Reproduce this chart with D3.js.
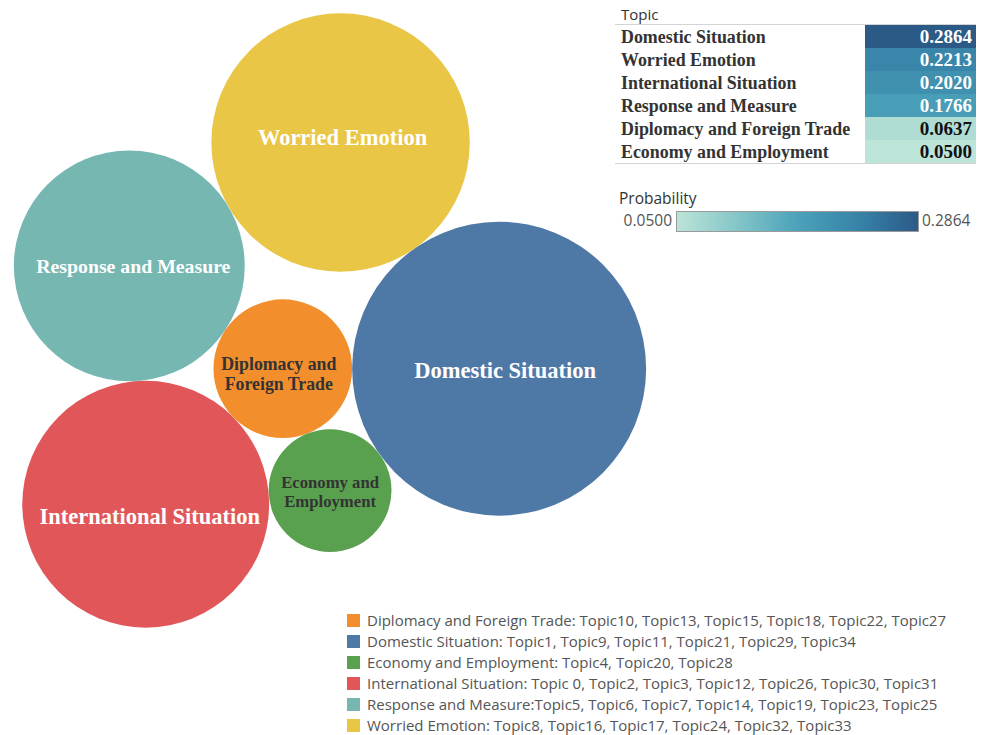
<!DOCTYPE html>
<html>
<head>
<meta charset="utf-8">
<script src="https://cdn.jsdelivr.net/npm/d3@7"></script>
<style>
  html, body { margin: 0; padding: 0; background: #ffffff; }
  svg { display: block; }
</style>
</head>
<body>
<svg id="chart" width="981" height="735"></svg>
<script>
// Topic groups and their probabilities
const topics = [
  "Domestic Situation",
  "Worried Emotion",
  "International Situation",
  "Response and Measure",
  "Diplomacy and Foreign Trade",
  "Economy and Employment"
];
const probabilities = [0.2864, 0.2213, 0.2020, 0.1766, 0.0637, 0.0500];
const probabilityLabels = ["0.2864", "0.2213", "0.2020", "0.1766", "0.0637", "0.0500"];

// Topic-number membership shown in the colour legend (alphabetical order)
const legendTopics = [
  "Diplomacy and Foreign Trade",
  "Domestic Situation",
  "Economy and Employment",
  "International Situation",
  "Response and Measure",
  "Worried Emotion"
];
const legendMembers = [
  ": Topic10, Topic13, Topic15, Topic18, Topic22, Topic27",
  ": Topic1, Topic9, Topic11, Topic21, Topic29, Topic34",
  ": Topic4, Topic20, Topic28",
  ": Topic 0, Topic2, Topic3, Topic12, Topic26, Topic30, Topic31",
  ":Topic5, Topic6, Topic7, Topic14, Topic19, Topic23, Topic25",
  ": Topic8, Topic16, Topic17, Topic24, Topic32, Topic33"
];

const colorLegendDomain = [0.0500, 0.2864];
const colorLegendLabels = ["0.0500", "0.2864"];

const data = topics.map((t, i) => ({ topic: t, value: probabilities[i], label: probabilityLabels[i] }));
const byTopic = new Map(data.map(d => [d.topic, d]));

const svg = d3.select("#chart");
const sansFont = "'Open Sans', sans-serif";
const serifFont = "'Liberation Serif', 'Times New Roman', serif";

// ---------- scales ----------
const color = d3.scaleOrdinal()
  .domain(["Diplomacy and Foreign Trade", "Domestic Situation", "Economy and Employment",
           "International Situation", "Response and Measure", "Worried Emotion"])
  .range(["#f28e2b", "#4e79a7", "#59a14f", "#e15759", "#76b7b2", "#e9c646"]);

const radius = d3.scaleSqrt().domain([0, d3.max(probabilities)]).range([0, 147]);

// sequential blue-teal ramp used in the table and the colour bar
const rampStops = ["#bce4d8", "#84c6c8", "#4ba2ba", "#3783a8", "#2b5a87"];
const heat = d3.scaleLinear()
  .domain(d3.range(rampStops.length).map(i =>
    colorLegendDomain[0] + (colorLegendDomain[1] - colorLegendDomain[0]) * i / (rampStops.length - 1)))
  .range(rampStops)
  .interpolate(d3.interpolateRgb);

// ---------- bubble layout: each bubble touches two already placed bubbles ----------
data.forEach(d => { d.r = radius(d.value); });

function touch(a, b, c, side) {
  const dx = b.x - a.x, dy = b.y - a.y;
  const d = Math.hypot(dx, dy);
  const ra = a.r + c.r, rb = b.r + c.r;
  const along = (ra * ra - rb * rb + d * d) / (2 * d);
  const h = Math.sqrt(Math.max(0, ra * ra - along * along));
  const ux = dx / d, uy = dy / d;
  c.x = a.x + along * ux + side * h * (-uy);
  c.y = a.y + along * uy + side * h * ux;
}

const hub = byTopic.get("Domestic Situation");
hub.x = 0; hub.y = 0;
const dip = byTopic.get("Diplomacy and Foreign Trade");
dip.x = -(hub.r + dip.r); dip.y = 0;
touch(hub, dip, byTopic.get("Economy and Employment"), -1);
touch(dip, byTopic.get("Economy and Employment"), byTopic.get("International Situation"), 1);
touch(byTopic.get("International Situation"), dip, byTopic.get("Response and Measure"), -1);
touch(byTopic.get("Response and Measure"), hub, byTopic.get("Worried Emotion"), -1);

// centre the packed group inside the bubble area
const area = { cx: 330, cy: 320.5 };
const x0 = d3.min(data, d => d.x - d.r), x1 = d3.max(data, d => d.x + d.r);
const y0 = d3.min(data, d => d.y - d.r), y1 = d3.max(data, d => d.y + d.r);
const shiftX = area.cx - (x0 + x1) / 2, shiftY = area.cy - (y0 + y1) / 2;

const bubbles = svg.append("g").attr("transform", `translate(${shiftX},${shiftY})`);

bubbles.selectAll("circle")
  .data(data)
  .join("circle")
  .attr("cx", d => d.x)
  .attr("cy", d => d.y)
  .attr("r", d => d.r)
  .attr("fill", d => color(d.topic));

// bubble labels
const labelStyle = {
  "Domestic Situation":          { lines: ["Domestic Situation"], size: 22.5, fill: "#ffffff", dx: 6, dy: 1 },
  "Worried Emotion":             { lines: ["Worried Emotion"], size: 22.5, fill: "#ffffff", dx: 2, dy: -5 },
  "International Situation":     { lines: ["International Situation"], size: 22.5, fill: "#ffffff", dx: 4, dy: 12 },
  "Response and Measure":        { lines: ["Response and Measure"], size: 19.8, fill: "#ffffff", dx: 4, dy: 0 },
  "Diplomacy and Foreign Trade": { lines: ["Diplomacy and", "Foreign Trade"], size: 17.8, fill: "#333333", dx: -4, dy: 5 },
  "Economy and Employment":      { lines: ["Economy and", "Employment"], size: 16.7, fill: "#333333", dx: 0, dy: 1 }
};

bubbles.selectAll("text.bubble-label")
  .data(data)
  .join("text")
  .attr("class", "bubble-label")
  .attr("x", d => d.x + labelStyle[d.topic].dx)
  .attr("y", d => d.y + labelStyle[d.topic].dy)
  .attr("text-anchor", "middle")
  .attr("font-family", serifFont)
  .attr("font-weight", "bold")
  .attr("font-size", d => labelStyle[d.topic].size)
  .attr("fill", d => labelStyle[d.topic].fill)
  .each(function(d) {
    const s = labelStyle[d.topic];
    const lh = s.size * 1.12;
    const n = s.lines.length;
    d3.select(this).selectAll("tspan")
      .data(s.lines)
      .join("tspan")
      .attr("x", d.x + s.dx)
      .attr("y", (l, i) => d.y + s.dy + (i - (n - 1) / 2) * lh)
      .attr("dy", "0.35em")
      .text(l => l);
  });

// ---------- probability table ----------
const table = svg.append("g");
const tbl = { left: 615, right: 976, top: 25, cellX: 865, rowH: 23 };

table.append("text")
  .attr("x", 621).attr("y", 20)
  .attr("font-family", sansFont)
  .attr("font-size", 15)
  .attr("fill", "#333")
  .text("Topic");

const rows = table.selectAll("g.row")
  .data(data)
  .join("g")
  .attr("class", "row")
  .attr("transform", (d, i) => `translate(0,${tbl.top + i * tbl.rowH})`);

rows.append("rect")
  .attr("x", tbl.cellX).attr("y", 0)
  .attr("width", tbl.right - tbl.cellX).attr("height", tbl.rowH)
  .attr("fill", d => heat(d.value));

rows.append("text")
  .attr("x", 621).attr("y", tbl.rowH / 2)
  .attr("dy", "0.35em")
  .attr("font-family", serifFont)
  .attr("font-weight", "bold")
  .attr("font-size", 17.9)
  .attr("fill", "#333")
  .text(d => d.topic);

rows.append("text")
  .attr("x", 972).attr("y", tbl.rowH / 2)
  .attr("dy", "0.35em")
  .attr("text-anchor", "end")
  .attr("font-family", serifFont)
  .attr("font-weight", "bold")
  .attr("font-size", 19)
  .attr("fill", d => d.value > 0.12 ? "#ffffff" : "#111111")
  .text(d => d.label);

table.append("line")
  .attr("x1", tbl.left).attr("x2", tbl.right)
  .attr("y1", tbl.top - 0.5).attr("y2", tbl.top - 0.5)
  .attr("stroke", "#d4d4d4");
table.append("line")
  .attr("x1", tbl.left).attr("x2", tbl.right)
  .attr("y1", tbl.top + data.length * tbl.rowH + 0.5).attr("y2", tbl.top + data.length * tbl.rowH + 0.5)
  .attr("stroke", "#d4d4d4");

// ---------- colour bar ----------
const defs = svg.append("defs");
const grad = defs.append("linearGradient").attr("id", "probRamp");
grad.selectAll("stop")
  .data(heat.domain())
  .join("stop")
  .attr("offset", v => (v - colorLegendDomain[0]) / (colorLegendDomain[1] - colorLegendDomain[0]))
  .attr("stop-color", v => heat(v));

const bar = { x: 676, y: 211, w: 242, h: 20 };
svg.append("text")
  .attr("x", 619).attr("y", 204)
  .attr("font-family", sansFont)
  .attr("font-size", 15.5)
  .attr("fill", "#333")
  .text("Probability");
svg.append("rect")
  .attr("x", bar.x + 0.5).attr("y", bar.y + 0.5)
  .attr("width", bar.w).attr("height", bar.h)
  .attr("fill", "url(#probRamp)")
  .attr("stroke", "#9a9a9a");
svg.append("text")
  .attr("x", bar.x - 4).attr("y", bar.y + bar.h / 2)
  .attr("dy", "0.35em")
  .attr("text-anchor", "end")
  .attr("font-family", sansFont)
  .attr("font-size", 15.5)
  .attr("fill", "#555")
  .text(colorLegendLabels[0]);
svg.append("text")
  .attr("x", bar.x + bar.w + 4).attr("y", bar.y + bar.h / 2)
  .attr("dy", "0.35em")
  .attr("font-family", sansFont)
  .attr("font-size", 15.5)
  .attr("fill", "#555")
  .text(colorLegendLabels[1]);

// ---------- topic membership legend ----------
const legend = svg.append("g").attr("transform", "translate(347,614)");
const items = legend.selectAll("g")
  .data(legendTopics)
  .join("g")
  .attr("transform", (d, i) => `translate(0,${i * 21})`);
items.append("rect")
  .attr("width", 13).attr("height", 13)
  .attr("fill", d => color(d));
items.append("text")
  .attr("x", 20).attr("y", 7)
  .attr("dy", "0.35em")
  .attr("font-family", sansFont)
  .attr("font-size", 15)
  .attr("fill", "#555")
  .text((d, i) => d + legendMembers[i]);
</script>
</body>
</html>
